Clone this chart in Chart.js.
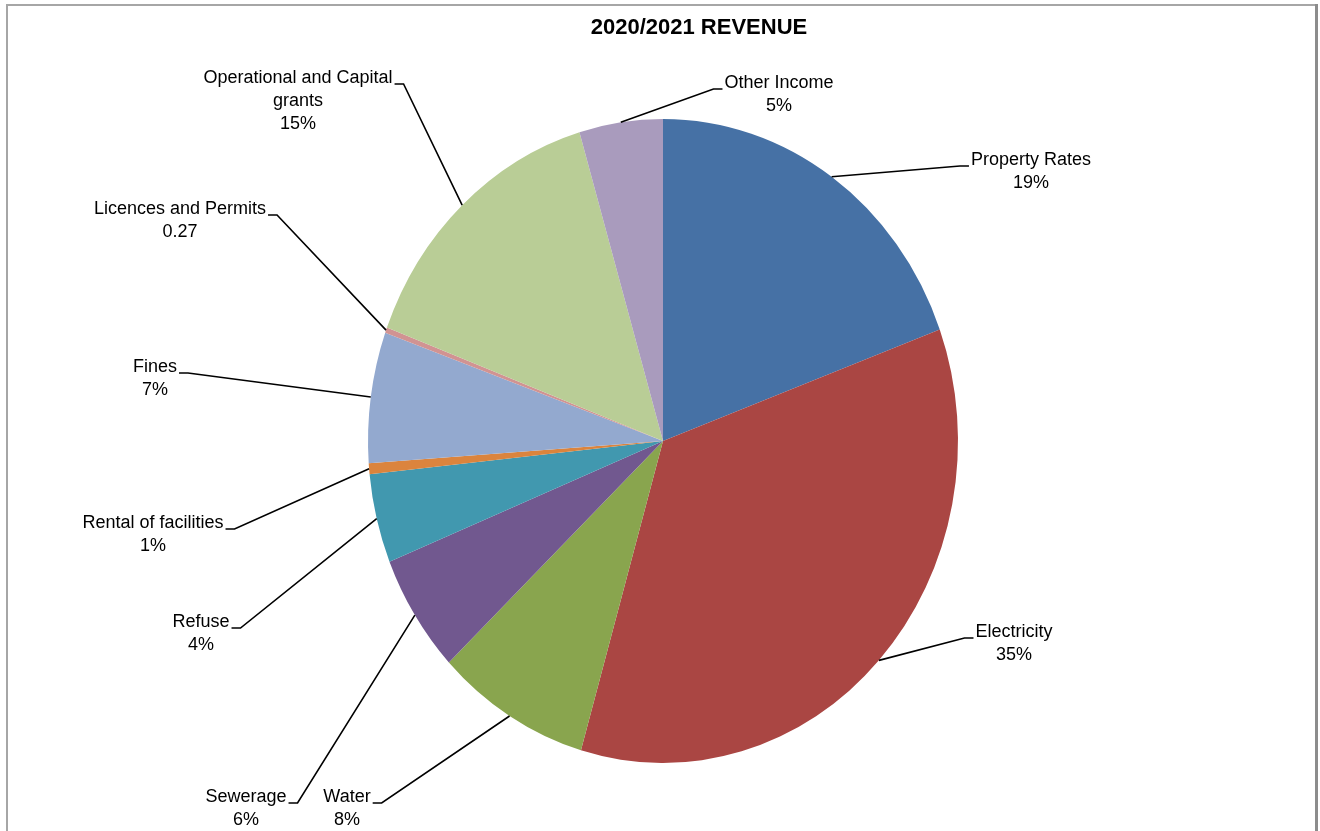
<!DOCTYPE html>
<html>
<head>
<meta charset="utf-8">
<script src="https://cdn.jsdelivr.net/npm/chart.js@4"></script>
<style>
  html, body { margin: 0; padding: 0; background: #fff; }
  #wrap { position: relative; width: 1320px; height: 831px; }
</style>
</head>
<body>
<div id="wrap"><canvas id="c" width="1320" height="831"></canvas></div>
<script>
// ---- data ----
const categories = ["Property Rates", "Electricity", "Water", "Sewerage", "Refuse",
  "Rental of facilities", "Fines", "Licences and Permits", "Operational and Capital grants", "Other Income"];
const values = [19.5, 35.35, 8.5, 6, 4.5, 0.55, 6.6, 0.27, 14.8, 4.6];
const valueLabels = ["19%", "35%", "8%", "6%", "4%", "1%", "7%", "0.27", "15%", "5%"];
const titleText = "2020/2021 REVENUE";

// ---- styling / layout (not data) ----
const colors = ["#4671A5", "#AA4643", "#89A54E", "#71588F", "#4198AF",
  "#DB843D", "#93A9CF", "#D19392", "#B9CD96", "#A99BBD"];
const labelLayout = [
  { lines: ["Property Rates"], cx: 1031, y: 160, side: "left" },
  { lines: ["Electricity"], cx: 1014, y: 632, side: "left" },
  { lines: ["Water"], cx: 347, y: 797, side: "right" },
  { lines: ["Sewerage"], cx: 246, y: 797, side: "right" },
  { lines: ["Refuse"], cx: 201, y: 622, side: "right" },
  { lines: ["Rental of facilities"], cx: 153, y: 523, side: "right" },
  { lines: ["Fines"], cx: 155, y: 367, side: "right" },
  { lines: ["Licences and Permits"], cx: 180, y: 209, side: "right" },
  { lines: ["Operational and Capital", "grants"], cx: 298, y: 78, side: "right" },
  { lines: ["Other Income"], cx: 779, y: 83, side: "left" }
];
const yStretch = 322 / 295;
const FONT = '18px "Liberation Sans", Arial, sans-serif';
const LINE_H = 23;

const stretchPlugin = {
  id: 'stretch',
  beforeDatasetsDraw(chart) {
    const a = chart.getDatasetMeta(0).data[0];
    const ctx = chart.ctx;
    ctx.save();
    ctx.translate(a.x, a.y);
    ctx.scale(1, yStretch);
    ctx.translate(-a.x, -a.y);
  },
  afterDatasetsDraw(chart) {
    chart.ctx.restore();
  }
};

const decorPlugin = {
  id: 'decor',
  afterDraw(chart) {
    const ctx = chart.ctx;
    ctx.save();
    ctx.fillStyle = '#a6a6a6';
    ctx.fillRect(6, 4, 1312, 2);
    ctx.fillRect(6, 4, 2, 827);
    ctx.fillStyle = '#8c8c8c';
    ctx.fillRect(1315, 4, 3, 827);
    ctx.fillStyle = '#000';
    ctx.font = 'bold 22px "Liberation Sans", Arial, sans-serif';
    ctx.textAlign = 'center';
    ctx.textBaseline = 'middle';
    ctx.fillText(titleText, 699, 28);

    const meta = chart.getDatasetMeta(0);
    ctx.font = FONT;
    ctx.strokeStyle = '#000';
    ctx.lineWidth = 1.6;
    meta.data.forEach((arc, i) => {
      const L = labelLayout[i];
      const lines = L.lines.concat([valueLabels[i]]);
      ctx.fillStyle = '#000';
      ctx.textAlign = 'center';
      ctx.textBaseline = 'middle';
      lines.forEach((t, k) => ctx.fillText(t, L.cx, L.y + k * LINE_H));
      const w = ctx.measureText(L.lines[0]).width;
      const mid = (arc.startAngle + arc.endAngle) / 2;
      const px = arc.x + arc.outerRadius * Math.cos(mid);
      const py = arc.y + arc.outerRadius * Math.sin(mid) * yStretch;
      const ly = L.y + 6;
      let x1, x2;
      if (L.side === 'right') { x1 = L.cx + w / 2 + 2; x2 = x1 + 9; }
      else { x1 = L.cx - w / 2 - 2; x2 = x1 - 9; }
      ctx.beginPath();
      ctx.moveTo(x1, ly);
      ctx.lineTo(x2, ly);
      ctx.lineTo(px, py);
      ctx.stroke();
    });
    ctx.restore();
  }
};

new Chart(document.getElementById('c'), {
  type: 'pie',
  data: {
    labels: categories,
    datasets: [{ data: values, backgroundColor: colors, borderWidth: 0 }]
  },
  options: {
    responsive: false,
    animation: false,
    events: [],
    layout: { padding: { left: 368, right: 362, top: 146, bottom: 95 } },
    plugins: {
      legend: { display: false },
      title: { display: false },
      tooltip: { enabled: false }
    }
  },
  plugins: [stretchPlugin, decorPlugin]
});
</script>
</body>
</html>
